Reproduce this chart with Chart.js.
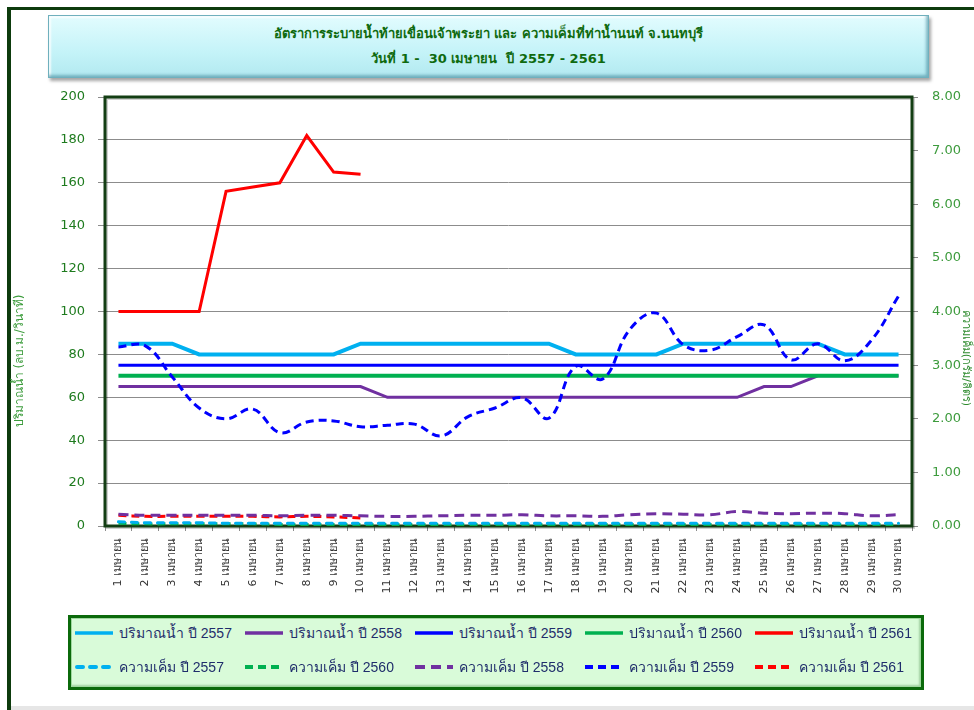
<!DOCTYPE html>
<html>
<head>
<meta charset="utf-8">
<script src="https://cdn.jsdelivr.net/npm/chart.js@4.4.1/dist/chart.umd.min.js"></script>
<style>
  body { margin: 0; background: #fff; }
  #wrap { position: relative; width: 974px; height: 710px; overflow: hidden; font-family: Tahoma, "DejaVu Sans", sans-serif; }
  #frame { position: absolute; left: 7px; top: 7px; width: 1000px; height: 720px; border-left: 4px solid #0d3b0d; border-top: 3px solid #0d3b0d; }
  #bottomline { position: absolute; left: 11px; right: 0; top: 706px; height: 4px; background: #e6e6e6; }
  #titlebox {
    position: absolute; left: 48px; top: 15px; width: 879px; height: 61px;
    background: linear-gradient(#e2fcfe, #c4f3f8 60%, #b2e9f0);
    border: 1px solid #6fb0bd;
    box-shadow: 2px 3px 3px rgba(0,0,0,0.35), inset -2px -2px 3px rgba(60,130,150,0.55), inset 2px 2px 2px rgba(255,255,255,0.8);
    color: #0f6a0f; font-weight: bold; font-size: 13px; text-align: center; white-space: pre;
  }
  #titlebox div { position: absolute; left: 0; right: 0; }
  #chart { position: absolute; left: 0; top: 0; }
  #legend {
    position: absolute; left: 68px; top: 615px; width: 846px; height: 69px;
    background: #d9fbd9; border: 3px solid #0b6a0b;
    box-shadow: inset 0 0 0 1px #9fd89f, inset -2px -2px 2px rgba(0,90,0,0.25);
    display: grid; grid-template-columns: repeat(5, 170px); grid-template-rows: 30px 30px; row-gap: 4px;
    padding-left: 4px;
  }
  .item { display: flex; align-items: center; font-family: "Liberation Sans", sans-serif; font-size: 14px; color: #1f2d6b; white-space: nowrap; }
  .item svg { margin-right: 4px; flex: none; }
</style>
</head>
<body>
<div id="wrap">
  <div id="frame"></div>
  <div id="bottomline"></div>
  <div id="titlebox">
    <div style="top:7px">อัตราการระบายน้ำท้ายเขื่อนเจ้าพระยา และ ความเค็มที่ท่าน้ำนนท์ จ.นนทบุรี</div>
    <div style="top:32px">วันที่ 1 -  30 เมษายน  ปี 2557 - 2561</div>
  </div>
  <canvas id="chart" width="974" height="710"></canvas>
  <div id="legend"></div>
</div>
<script>
// วันที่
var dayNums = [1,2,3,4,5,6,7,8,9,10,11,12,13,14,15,16,17,18,19,20,21,22,23,24,25,26,27,28,29,30];
var monthName = 'เมษายน';
var categories = dayNums.map(function (d) { return d + ' ' + monthName; });

// ปริมาณน้ำ (ลบ.ม./วินาที)
var flow2557 = [85,85,85,80,80,80,80,80,80,85,85,85,85,85,85,85,85,80,80,80,80,85,85,85,85,85,85,80,80,80];
var flow2558 = [65,65,65,65,65,65,65,65,65,65,60,60,60,60,60,60,60,60,60,60,60,60,60,60,65,65,70,70,70,70];
var flow2559 = [75,75,75,75,75,75,75,75,75,75,75,75,75,75,75,75,75,75,75,75,75,75,75,75,75,75,75,75,75,75];
var flow2560 = [70,70,70,70,70,70,70,70,70,70,70,70,70,70,70,70,70,70,70,70,70,70,70,70,70,70,70,70,70,70];
var flow2561 = [100,100,100,100,156,158,160,182,165,164,null,null,null,null,null,null,null,null,null,null,null,null,null,null,null,null,null,null,null,null];

// ความเค็ม (กรัม/ลิตร)
var sal2557 = [0.08,0.06,0.06,0.06,0.05,0.05,0.05,0.05,0.05,0.05,0.05,0.05,0.05,0.05,0.05,0.05,0.05,0.05,0.05,0.05,0.05,0.05,0.05,0.05,0.05,0.05,0.05,0.05,0.05,0.05];
var sal2560 = [0.05,0.04,0.04,0.04,0.04,0.04,0.03,0.03,0.03,0.03,0.03,0.03,0.03,0.03,0.03,0.03,0.03,0.03,0.03,0.03,0.03,0.03,0.03,0.03,0.03,0.03,0.03,0.03,0.03,0.03];
var sal2558 = [0.22,0.2,0.2,0.2,0.2,0.2,0.19,0.2,0.2,0.19,0.18,0.18,0.19,0.2,0.2,0.21,0.19,0.19,0.18,0.21,0.23,0.22,0.21,0.27,0.24,0.23,0.24,0.23,0.19,0.21];
var sal2559 = [3.34,3.36,2.78,2.2,2.0,2.18,1.74,1.94,1.96,1.85,1.88,1.9,1.68,2.04,2.2,2.39,2.01,2.98,2.74,3.66,3.97,3.38,3.28,3.53,3.75,3.1,3.4,3.08,3.47,4.29];
var sal2561 = [0.2,0.18,0.18,0.18,0.18,0.18,0.17,0.18,0.17,0.15,null,null,null,null,null,null,null,null,null,null,null,null,null,null,null,null,null,null,null,null];

// แกน
var flowTicks = [0,20,40,60,80,100,120,140,160,180,200];
var salTicks = [0,1,2,3,4,5,6,7,8];
var leftTitle = 'ปริมาณน้ำ (ลบ.ม./วินาที)';
var rightTitle = 'ความเค็ม(กรัม/ลิตร)';

var fontFam = 'Tahoma, "DejaVu Sans", sans-serif';

function flowLine(label, data, color, width, order) {
  return { label: label, data: data, yAxisID: 'y', borderColor: color, backgroundColor: color,
    borderWidth: width, pointRadius: 0, tension: 0, order: order, spanGaps: false };
}
function salLine(label, data, color, dash, cap) {
  return { label: label, data: data, yAxisID: 'y1', borderColor: color, backgroundColor: color,
    borderWidth: 3, borderDash: dash, borderCapStyle: cap || 'butt', pointRadius: 0, tension: 0.4, order: 0 };
}

var datasets = [
  flowLine('ปริมาณน้ำ ปี 2557', flow2557, '#00b0f0', 4, 2),
  flowLine('ปริมาณน้ำ ปี 2558', flow2558, '#7030a0', 3, 3),
  flowLine('ปริมาณน้ำ ปี 2559', flow2559, '#0000ff', 3, 2),
  flowLine('ปริมาณน้ำ ปี 2560', flow2560, '#00b050', 4, 1),
  flowLine('ปริมาณน้ำ ปี 2561', flow2561, '#ff0000', 3, 1),
  salLine('ความเค็ม ปี 2557', sal2557, '#00b0f0', [6, 7], 'round'),
  salLine('ความเค็ม ปี 2560', sal2560, '#00b050', [8, 5]),
  salLine('ความเค็ม ปี 2558', sal2558, '#7030a0', [10, 6]),
  salLine('ความเค็ม ปี 2559', sal2559, '#0000ff', [8, 5]),
  salLine('ความเค็ม ปี 2561', sal2561, '#ff0000', [8, 5])
];

var framePlugin = {
  id: 'plotFrame',
  beforeDatasetsDraw: function (chart) {
    var a = chart.chartArea, ctx = chart.ctx;
    ctx.save();
    ctx.strokeStyle = 'rgba(0,0,0,0.18)';
    ctx.lineWidth = 2;
    ctx.strokeRect(a.left + 2, a.top + 2, a.right - a.left, a.bottom - a.top);
    ctx.strokeStyle = '#143e14';
    ctx.lineWidth = 3;
    ctx.strokeRect(a.left, a.top, a.right - a.left, a.bottom - a.top);
    ctx.restore();
  }
};

var axisTitlePlugin = {
  id: 'axisTitles',
  afterDraw: function (chart) {
    var ctx = chart.ctx;
    ctx.save();
    ctx.textAlign = 'center';
    ctx.textBaseline = 'middle';
    ctx.font = '12px ' + fontFam;
    ctx.fillStyle = '#3c9c3c';
    ctx.translate(20, 361);
    ctx.rotate(-Math.PI / 2);
    ctx.fillText(leftTitle, 0, 0);
    ctx.restore();
    ctx.save();
    ctx.textAlign = 'center';
    ctx.textBaseline = 'middle';
    ctx.font = '11px ' + fontFam;
    ctx.fillStyle = '#2e8b2e';
    ctx.translate(966, 358);
    ctx.rotate(Math.PI / 2);
    ctx.fillText(rightTitle, 0, 0);
    ctx.restore();
  }
};

var chart = new Chart(document.getElementById('chart'), {
  type: 'line',
  data: { labels: categories, datasets: datasets },
  options: {
    responsive: false,
    animation: false,
    devicePixelRatio: 1,
    layout: { padding: { top: 97, left: 8, right: 0, bottom: 114 } },
    plugins: { legend: { display: false }, tooltip: { enabled: false } },
    scales: {
      x: {
        offset: true,
        grid: { offset: true, drawOnChartArea: false, tickLength: 5, color: '#8c8c8c' },
        border: { display: false },
        ticks: { minRotation: 90, maxRotation: 90, autoSkip: false, padding: 7, color: '#333', font: { size: 11, family: fontFam } },
        afterFit: function (s) { s.height = 70; }
      },
      y: {
        position: 'left', min: 0, max: 200,
        afterBuildTicks: function (s) { s.ticks = flowTicks.map(function (v) { return { value: v }; }); },
        grid: { color: '#8c8c8c', tickLength: 7 },
        border: { display: false },
        ticks: { padding: 13, color: '#1e7b1e', font: { size: 13, family: fontFam } },
        afterFit: function (s) { s.width = 97; }
      },
      y1: {
        position: 'right', min: 0, max: 8,
        afterBuildTicks: function (s) { s.ticks = salTicks.map(function (v) { return { value: v }; }); },
        grid: { drawOnChartArea: false, tickLength: 6, color: '#8c8c8c' },
        border: { display: false },
        ticks: { padding: 14, color: '#3d9b3d', font: { size: 13, family: fontFam },
          callback: function (v) { return Number(v).toFixed(2); } },
        afterFit: function (s) { s.width = 62; }
      }
    }
  },
  plugins: [framePlugin, axisTitlePlugin]
});

// คำอธิบาย
var legend = document.getElementById('legend');
chart.data.datasets.forEach(function (ds) {
  var item = document.createElement('div');
  item.className = 'item';
  var dash = ds.borderDash ? ds.borderDash.join(' ') : '';
  var cap = ds.borderCapStyle === 'round' ? 'round' : 'butt';
  item.innerHTML = '<svg width="40" height="10"><line x1="' + (cap === 'round' ? 2 : 0) + '" y1="5" x2="38" y2="5" stroke="' + ds.borderColor +
    '" stroke-width="' + (ds.yAxisID === 'y1' ? 4 : 3.5) + '" stroke-linecap="' + cap + '"' +
    (dash ? ' stroke-dasharray="' + dash + '"' : '') + '/></svg><span>' + ds.label + '</span>';
  legend.appendChild(item);
});
</script>
</body>
</html>
